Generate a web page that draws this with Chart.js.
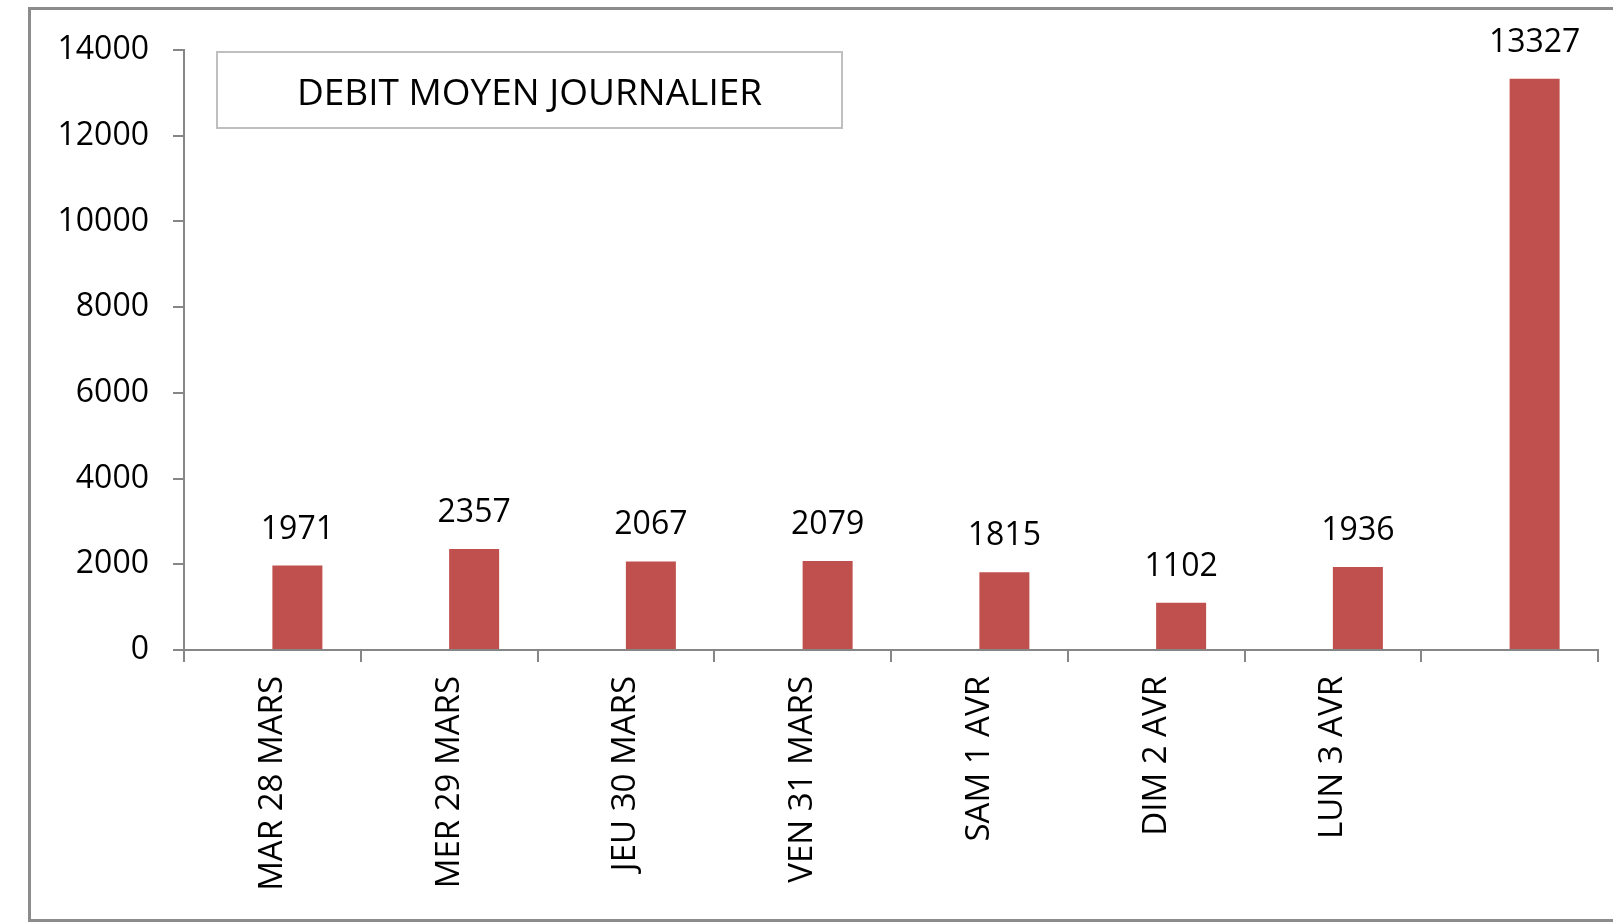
<!DOCTYPE html>
<html>
<head>
<meta charset="utf-8">
<script src="https://cdn.jsdelivr.net/npm/chart.js@4"></script>
<style>
  html, body { margin: 0; padding: 0; background: #fff; }
  canvas { display: block; }
</style>
</head>
<body>
<canvas id="debit-chart" width="1613" height="923"></canvas>
<script>
const dayLabels = ["MAR 28 MARS", "MER 29 MARS", "JEU 30 MARS", "VEN 31 MARS", "SAM 1 AVR", "DIM 2 AVR", "LUN 3 AVR", ""];
const debitValues = [1971, 2357, 2067, 2079, 1815, 1102, 1936, 13327];
// excel had an empty first series, which pushes the bars right of centre
const emptySeries = [null, null, null, null, null, null, null, null];
const yTicks = [0, 2000, 4000, 6000, 8000, 10000, 12000, 14000];
const legendText = "DEBIT MOYEN JOURNALIER";

const axisGray = "#868686";
const barRed = "#C0504D";
const font = "'Open Sans', 'Liberation Sans', sans-serif";

const frameAndLabels = {
    id: 'frame-and-labels',
    beforeDraw(chart) {
        const ctx = chart.ctx;
        ctx.save();
        ctx.fillStyle = "#fff";
        ctx.fillRect(0, 0, chart.width, chart.height);
        ctx.strokeStyle = "#8C8C8C";
        ctx.lineWidth = 3;
        ctx.strokeRect(29.5, 8.5, chart.width + 10, 912);
        ctx.restore();
    },
    afterDatasetsDraw(chart) {
        const ctx = chart.ctx;
        const meta = chart.getDatasetMeta(1);
        ctx.save();
        ctx.fillStyle = "#000";
        ctx.font = "32px " + font;
        ctx.textAlign = "center";
        ctx.textBaseline = "alphabetic";
        meta.data.forEach((bar, i) => {
            ctx.fillText(String(debitValues[i]), bar.x, bar.y - 27);
        });
        // legend-like box
        ctx.strokeStyle = "#BFBFBF";
        ctx.lineWidth = 2;
        ctx.strokeRect(217, 52, 625, 76);
        ctx.font = "37px " + font;
        ctx.textBaseline = "middle";
        ctx.fillText(legendText, 529.5, 94);
        ctx.restore();
    }
};

new Chart(document.getElementById("debit-chart"), {
    type: 'bar',
    data: {
        labels: dayLabels,
        datasets: [{
            data: emptySeries,
            backgroundColor: barRed
        }, {
            data: debitValues,
            backgroundColor: barRed,
            borderWidth: 0
        }]
    },
    options: {
        responsive: false,
        animation: false,
        devicePixelRatio: 1,
        categoryPercentage: 0.5658,
        barPercentage: 1,
        layout: {
            padding: { left: 0, top: 50, right: 15, bottom: 0 }
        },
        plugins: {
            legend: { display: false },
            tooltip: { enabled: false },
            title: { display: false }
        },
        scales: {
            x: {
                offset: true,
                grid: {
                    display: true,
                    drawOnChartArea: false,
                    drawTicks: true,
                    tickLength: 12,
                    color: axisGray,
                    lineWidth: 2,
                    offset: true
                },
                border: { display: true, color: axisGray, width: 2 },
                ticks: {
                    minRotation: 90,
                    maxRotation: 90,
                    autoSkip: false,
                    padding: 14,
                    color: "#000",
                    font: { family: font, size: 33 }
                },
                afterFit(scale) { scale.height = 273; }
            },
            y: {
                min: 0,
                max: 14000,
                afterBuildTicks(scale) {
                    scale.ticks = yTicks.map(v => ({ value: v }));
                },
                grid: {
                    display: true,
                    drawOnChartArea: false,
                    drawTicks: true,
                    tickLength: 11,
                    color: axisGray,
                    lineWidth: 2
                },
                border: { display: true, color: axisGray, width: 2 },
                ticks: {
                    padding: 24,
                    color: "#000",
                    font: { family: font, size: 32 },
                    callback: v => String(v)
                },
                afterFit(scale) { scale.width = 184; }
            }
        }
    },
    plugins: [frameAndLabels]
});
</script>
</body>
</html>
